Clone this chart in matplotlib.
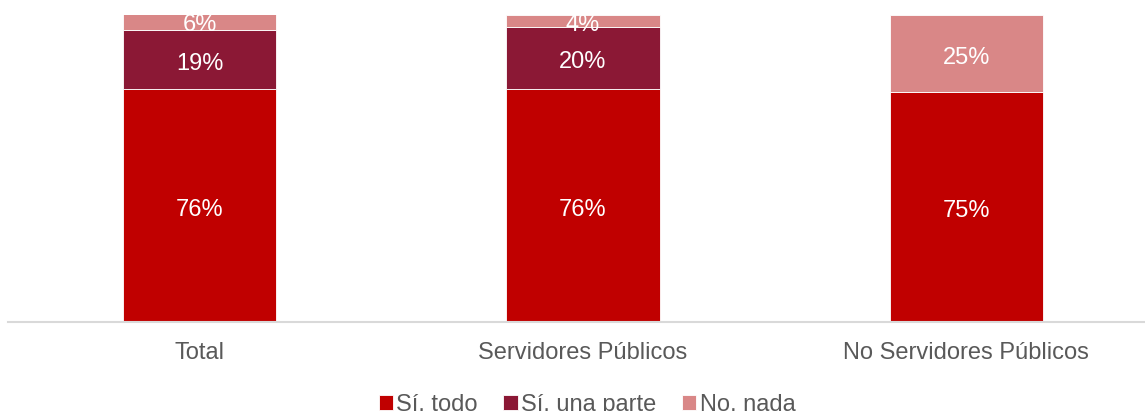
import matplotlib.pyplot as plt
import numpy as np

plt.rcParams['font.family'] = ['Liberation Sans', 'DejaVu Sans']

# Dati
categorie = ['Total', 'Servidores Públicos', 'No Servidores Públicos']
si_todo = [76, 76, 75]
si_parte = [19, 20, 0]
no_nada = [6, 4, 25]
serie_nomi = ['Sí, todo', 'Sí, una parte', 'No, nada']
colori = ['#C00000', '#8B1835', '#D98787']

fig = plt.figure(figsize=(11.45, 4.11), dpi=100)
ax = fig.add_axes([8 / 1145, 1 - 322 / 411, 1150 / 1145, 307 / 411])

x = np.arange(len(categorie))
width = 0.40
bottom = np.zeros(len(categorie))
handles = []
for valori, nome, col in zip([si_todo, si_parte, no_nada], serie_nomi, colori):
    valori = np.array(valori, dtype=float)
    bars = ax.bar(x, valori, width, bottom=bottom, color=col, edgecolor='white',
                  linewidth=0.6, label=nome)
    handles.append(bars)
    for xi, b, v in zip(x, bottom, valori):
        if v > 0:
            ax.annotate(f'{v:.0f}%', (xi, b + v / 2), xytext=(0, -3),
                        textcoords='offset points', ha='center', va='center',
                        color='white', fontsize=17, annotation_clip=False,
                        clip_on=True)
    bottom += valori

ax.set_xlim(-0.5, 2.5)
ax.set_ylim(0, 100)
ax.set_xticks(x)
ax.set_xticklabels(categorie, fontsize=17, color='#595959')
ax.tick_params(axis='x', length=0, pad=14.5)
ax.set_yticks([])
for s in ['top', 'right', 'left']:
    ax.spines[s].set_visible(False)
ax.spines['bottom'].set_color('#D9D9D9')
ax.spines['bottom'].set_linewidth(1.5)

leg = fig.legend(handles=handles, labels=serie_nomi, loc='center',
                 bbox_to_anchor=(587 / 1145, 1 - 405 / 411), ncol=3, frameon=False,
                 fontsize=17, handlelength=0.6, handleheight=0.6,
                 handletextpad=0.15, columnspacing=1.08, borderpad=0)
for t in leg.get_texts():
    t.set_color('#595959')

plt.savefig('out.png', dpi=100)
